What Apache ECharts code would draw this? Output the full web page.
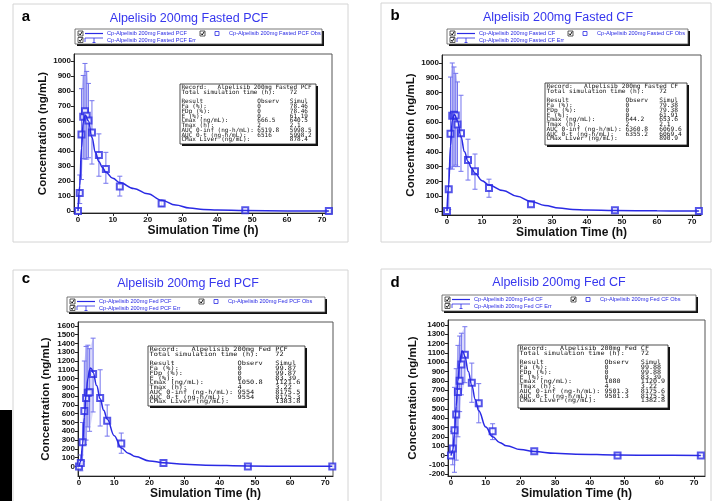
<!DOCTYPE html>
<html><head><meta charset="utf-8">
<script src="https://cdn.jsdelivr.net/npm/echarts@6/dist/echarts.min.js"></script>
<style>html,body{margin:0;padding:0;background:#fff}#c{width:712px;height:501px}</style>
</head><body><div id="c"></div>
<script>
// ---------- DATA ----------
const obsTime = [0, 0.5, 1, 1.5, 2, 2.5, 3, 4, 6, 8, 12, 24, 48, 72];

const obsA     = [0, 121, 510, 628, 664, 634, 603, 523, 373, 280, 163, 50, 5, 0];
const errLowA  = [0, 50, 210, 350, 346, 346, 355, 313, 232, 185, 100, 30, 2, 0];
const errHighA = [0, 240, 815, 903, 983, 930, 850, 735, 514, 391, 232, 72, 8, 0];

const obsB     = [0, 147, 522, 644, 650, 645, 585, 525, 345, 268, 155, 45, 5, 0];
const errLowB  = [0, 10, 290, 283, 300, 310, 300, 268, 209, 147, 93, 30, 2, 0];
const errHighB = [0, 285, 905, 1000, 973, 930, 872, 782, 485, 385, 215, 60, 8, 0];

const obsC     = [0, 40, 275, 632, 778, 840, 845, 1050.8, 780, 520, 260, 40, 0, 0];
const errLowC  = [0, -50, 60, 250, 300, 450, 400, 620, 460, 345, 150, 30, -2, 0];
const errHighC = [0, 130, 500, 1200, 1366, 1380, 1340, 1460, 1100, 700, 380, 50, 2, 0];

const obsD     = [0, 75, 270, 440, 680, 800, 975, 1080, 780, 560, 260, 45, 0, 0];
const errLowD  = [0, -100, -180, -50, 200, 470, 650, 780, 570, 350, 170, 35, -2, 0];
const errHighD = [0, 260, 730, 930, 1180, 1280, 1310, 1380, 990, 770, 340, 55, 2, 0];

const simTimeFasted = [0, 0.5, 1, 1.5, 2.1, 3, 4, 5, 6, 7, 8, 10, 12, 16, 20, 24, 28, 32, 36, 40, 48, 60, 72];
const simA = [0, 170, 420, 590, 640.5, 600, 490, 390, 330, 290, 258, 218, 190, 150, 115, 72, 40, 20, 11, 7, 3, 1, 0];
const simB = [0, 180, 440, 610, 653.6, 610, 500, 400, 335, 290, 255, 205, 175, 138, 100, 65, 38, 20, 11, 7, 3, 1, 0];

const simTimeFed = [0, 0.5, 1, 1.5, 2, 2.5, 3, 3.22, 3.5, 4, 5, 6, 7, 8, 10, 12, 14, 16, 20, 24, 30, 36, 48, 60, 72];
const simC = [0, 60, 250, 560, 820, 1000, 1100, 1121.6, 1115, 1070, 920, 770, 640, 540, 350, 210, 150, 112, 63, 42, 25, 14, 5, 2, 1];
const simD = [0, 50, 230, 530, 800, 990, 1095, 1120.9, 1112, 1060, 900, 750, 600, 480, 306, 200, 140, 104, 63, 42, 24, 14, 5, 2, 1];

const xTicks = [0, 10, 20, 30, 40, 50, 60, 70];
const yTicksFasted = [0, 100, 200, 300, 400, 500, 600, 700, 800, 900, 1000];
const yTicksFedPCF = [0, 100, 200, 300, 400, 500, 600, 700, 800, 900, 1000, 1100, 1200, 1300, 1400, 1500, 1600];
const yTicksFedCF = [-200, -100, 0, 100, 200, 300, 400, 500, 600, 700, 800, 900, 1000, 1100, 1200, 1300, 1400];

const panelLetters = ['a', 'b', 'c', 'd'];
const titles = ['Alpelisib 200mg Fasted PCF', 'Alpelisib 200mg Fasted CF', 'Alpelisib 200mg Fed PCF', 'Alpelisib 200mg Fed CF'];
const xAxisTitle = 'Simulation Time (h)';
const yAxisTitle = 'Concentration (ng/mL)';

const statLabels = ['Fa (%):', 'FDp (%):', 'F (%):', 'Cmax (ng/mL):', 'Tmax (h):', 'AUC 0-inf (ng-h/mL):', 'AUC 0-t (ng-h/mL):', 'CMax Liver (ng/mL):'];
const statObsA = ['0', '0', '0', '666.5', '2', '6519.8', '6516', ''];
const statSimA = ['78.46', '78.46', '61.19', '640.5', '2.1', '5998.5', '5998.2', '878.4'];
const statObsB = ['0', '0', '0', '644.2', '2', '6360.8', '6355.2', ''];
const statSimB = ['79.38', '79.38', '61.91', '653.6', '2.1', '6069.6', '6069.4', '890.9'];
const statObsC = ['0', '0', '0', '1050.8', '4', '9554', '9554', ''];
const statSimC = ['99.87', '99.87', '83.39', '1121.6', '3.22', '8175.5', '8175.3', '1383.8'];
const statObsD = ['0', '0', '0', '1080', '4', '9501.3', '9501.3', ''];
const statSimD = ['99.88', '99.88', '83.39', '1120.9', '3.22', '8175.6', '8175.5', '1382.8'];
const simulationTime = 72;

// ---------- STYLE / LAYOUT ----------
const BLUE = '#2a2ae4';
const TITLE_BLUE = '#3636ee';
const ERR = '#7474ee';
const BAND = 'rgba(150,150,240,0.35)';
const FONT = '"Liberation Sans", Arial, sans-serif';

const panels = [
  {obs: obsA, lo: errLowA, hi: errHighA, simT: simTimeFasted, sim: simA, yTicks: yTicksFasted, sObs: statObsA, sSim: statSimA, band: [2, 6]},
  {obs: obsB, lo: errLowB, hi: errHighB, simT: simTimeFasted, sim: simB, yTicks: yTicksFasted, sObs: statObsB, sSim: statSimB, band: [2, 6]},
  {obs: obsC, lo: errLowC, hi: errHighC, simT: simTimeFed, sim: simC, yTicks: yTicksFedPCF, sObs: statObsC, sSim: statSimC, band: [2, 7]},
  {obs: obsD, lo: errLowD, hi: errHighD, simT: simTimeFed, sim: simD, yTicks: yTicksFedCF, sObs: statObsD, sSim: statSimD, band: [2, 7]}
];

const layout = [
  {grid: {left: 74, top: 54, width: 258, height: 159}, xr: [-1.15, 72.9], yr: [-13, 1046],
   frame: [13, 4, 335, 238], letter: [26, 17], title: [189, 19],
   legend: {x: 75, y: 29, w: 247, h: 15, c2: 200}, box: {x: 180, y: 84, w: 136, h: 60, sx: 1.0},
   yGap: 19, xGap: 11},
  {grid: {left: 442, top: 55, width: 259, height: 160}, xr: [-1.43, 72.6], yr: [-27, 1054],
   frame: [381, 3, 330, 239], letter: [395, 16], title: [558, 18],
   legend: {x: 447, y: 29, w: 241, h: 15, c2: 568}, box: {x: 545, y: 83, w: 142, h: 62, sx: 1.04},
   yGap: 22, xGap: 10},
  {grid: {left: 78, top: 322, width: 255, height: 158}, xr: [-0.3, 72.2], yr: [-110, 1644],
   frame: [13, 270, 335, 240], letter: [26, 279], title: [188, 284],
   legend: {x: 67, y: 297, w: 258, h: 15, c2: 199}, box: {x: 148, y: 346, w: 157, h: 60, sx: 1.16},
   yGap: 26, xGap: 9},
  {grid: {left: 448, top: 320, width: 257, height: 160}, xr: [-0.86, 73.2], yr: [-221, 1452],
   frame: [381, 269, 330, 240], letter: [395, 283], title: [559, 283],
   legend: {x: 442, y: 295, w: 254, h: 16, c2: 571}, box: {x: 518, y: 345, w: 150, h: 63, sx: 1.12},
   yGap: 29, xGap: 9}
];

function pad(s, n) { s = String(s); while (s.length < n) s += ' '; return s; }

function boxText(i) {
  const p = panels[i];
  const lines = [
    pad('Record:', 10) + titles[i],
    pad('Total simulation time (h):', 30) + simulationTime,
    '',
    pad('Result', 21) + pad('Observ', 9) + 'Simul'
  ];
  statLabels.forEach((l, k) => lines.push(pad(l, 21) + pad(p.sObs[k], 9) + p.sSim[k]));
  return lines.join('\n');
}

function checkbox(x, y) {
  return [
    {type: 'rect', shape: {x: x, y: y - 2.5, width: 5, height: 5}, style: {fill: '#fff', stroke: '#333', lineWidth: 0.8}},
    {type: 'polyline', shape: {points: [[x + 1, y], [x + 2.2, y + 1.5], [x + 4.2, y - 1.8]]}, style: {stroke: '#111', lineWidth: 1, fill: null}}
  ];
}

function legendGraphic(i) {
  const L = layout[i].legend;
  const name = 'Cp-' + titles[i];
  const r1 = L.y + 4.5, r2 = L.y + 11;
  const f = '5.6px ' + FONT;
  return [
    {type: 'rect', shape: {x: L.x + 2, y: L.y + 2, width: L.w, height: L.h}, style: {fill: '#111'}},
    {type: 'rect', shape: {x: L.x, y: L.y, width: L.w, height: L.h}, style: {fill: '#fff', stroke: '#555', lineWidth: 0.8}},
    ...checkbox(L.x + 3, r1),
    {type: 'line', shape: {x1: L.x + 10, y1: r1, x2: L.x + 28, y2: r1}, style: {stroke: BLUE, lineWidth: 1.2}},
    {type: 'text', x: L.x + 32, y: r1, style: {text: name, font: f, fill: BLUE, verticalAlign: 'middle'}},
    ...checkbox(L.c2, r1),
    {type: 'rect', shape: {x: L.c2 + 15, y: r1 - 2, width: 4, height: 4}, style: {fill: '#fff', stroke: BLUE, lineWidth: 0.8}},
    {type: 'text', x: L.c2 + 29, y: r1, style: {text: name + ' Obs', font: f, fill: BLUE, verticalAlign: 'middle'}},
    ...checkbox(L.x + 3, r2),
    {type: 'line', shape: {x1: L.x + 10, y1: r2 - 2, x2: L.x + 28, y2: r2 - 2}, style: {stroke: BLUE, lineWidth: 0.8}},
    {type: 'line', shape: {x1: L.x + 10, y1: r2 - 2, x2: L.x + 10, y2: r2 + 2}, style: {stroke: BLUE, lineWidth: 0.8}},
    {type: 'line', shape: {x1: L.x + 19, y1: r2 - 2, x2: L.x + 19, y2: r2 + 2.5}, style: {stroke: BLUE, lineWidth: 0.8}},
    {type: 'line', shape: {x1: L.x + 17.5, y1: r2 + 2.5, x2: L.x + 20.5, y2: r2 + 2.5}, style: {stroke: BLUE, lineWidth: 0.8}},
    {type: 'text', x: L.x + 32, y: r2, style: {text: name + ' Err', font: f, fill: BLUE, verticalAlign: 'middle'}}
  ];
}

function infoBoxGraphic(i) {
  const B = layout[i].box;
  return [
    {type: 'rect', shape: {x: B.x + 2, y: B.y + 2, width: B.w, height: B.h}, style: {fill: '#111'}, z: 50},
    {type: 'rect', shape: {x: B.x, y: B.y, width: B.w, height: B.h}, style: {fill: '#fff', stroke: '#222', lineWidth: 0.8}, z: 51},
    {type: 'text', x: B.x + 1.5, y: B.y + 1.2, scaleX: B.sx, z: 52,
     style: {text: boxText(i), font: '6px "DejaVu Sans Mono", monospace', lineHeight: 4.75, fill: '#111', verticalAlign: 'top'}}
  ];
}

const grids = [], xAxes = [], yAxes = [], series = [], graphics = [];

// background artifact (black bar at the left of panel c)
graphics.push({type: 'rect', shape: {x: 0, y: 410, width: 12, height: 91}, style: {fill: '#000'}});

panels.forEach((p, i) => {
  const L = layout[i];
  grids.push(Object.assign({show: true, borderColor: '#555', borderWidth: 1, backgroundColor: '#fff', containLabel: false}, L.grid));
  xAxes.push({
    gridIndex: i, type: 'value', min: L.xr[0], max: L.xr[1],
    name: xAxisTitle, nameLocation: 'middle', nameGap: L.xGap,
    nameTextStyle: {fontFamily: FONT, fontWeight: 'bold', fontSize: 12, color: '#111'},
    axisLine: {show: true, onZero: false, lineStyle: {color: '#222', width: 1}},
    axisTick: {show: true, length: 3, customValues: xTicks, lineStyle: {color: '#222'}},
    axisLabel: {customValues: xTicks, formatter: v => String(v), fontFamily: FONT, fontWeight: 'bold', fontSize: 8, color: '#111', margin: 3},
    splitLine: {show: false}
  });
  yAxes.push({
    gridIndex: i, type: 'value', min: L.yr[0], max: L.yr[1],
    name: yAxisTitle, nameLocation: 'middle', nameGap: L.yGap,
    nameTextStyle: {fontFamily: FONT, fontWeight: 'bold', fontSize: 11.5, color: '#111'},
    axisLine: {show: true, onZero: false, lineStyle: {color: '#222', width: 1}},
    axisTick: {show: true, length: 3, customValues: p.yTicks, lineStyle: {color: '#222'}},
    axisLabel: {customValues: p.yTicks, formatter: v => String(v), fontFamily: FONT, fontWeight: 'bold', fontSize: 8, color: '#111', margin: 3},
    splitLine: {show: false}
  });
  // light band behind the dense early error bars
  const bandIdx = [];
  for (let k = p.band[0]; k <= p.band[1]; k++) bandIdx.push(k);
  series.push({
    type: 'custom', xAxisIndex: i, yAxisIndex: i, z: 1, silent: true,
    data: [0],
    renderItem: (params, api) => {
      const top = bandIdx.map(k => api.coord([obsTime[k], p.hi[k]]));
      const bot = bandIdx.slice().reverse().map(k => api.coord([obsTime[k], p.lo[k]]));
      return {type: 'polygon', shape: {points: top.concat(bot)}, style: {fill: BAND}};
    }
  });
  series.push({
    type: 'custom', name: 'Cp-' + titles[i] + ' Err', xAxisIndex: i, yAxisIndex: i, z: 2, silent: true,
    data: obsTime.map((t, k) => [t, p.lo[k], p.hi[k]]),
    encode: {x: 0, y: [1, 2]},
    renderItem: (params, api) => {
      const x = api.value(0);
      const a = api.coord([x, api.value(1)]);
      const b = api.coord([x, api.value(2)]);
      const c = 2.5;
      const st = {stroke: ERR, lineWidth: 1};
      return {type: 'group', children: [
        {type: 'line', shape: {x1: a[0], y1: a[1], x2: b[0], y2: b[1]}, style: st},
        {type: 'line', shape: {x1: a[0] - c, y1: a[1], x2: a[0] + c, y2: a[1]}, style: st},
        {type: 'line', shape: {x1: b[0] - c, y1: b[1], x2: b[0] + c, y2: b[1]}, style: st}
      ]};
    }
  });
  series.push({
    type: 'scatter', name: 'Cp-' + titles[i] + ' Obs', xAxisIndex: i, yAxisIndex: i, z: 3,
    symbol: 'emptyRect', symbolSize: 6,
    itemStyle: {color: BLUE, borderWidth: 1},
    data: obsTime.map((t, k) => [t, p.obs[k]])
  });
  series.push({
    type: 'line', name: 'Cp-' + titles[i], xAxisIndex: i, yAxisIndex: i, z: 4,
    showSymbol: false, smooth: 0.4, smoothMonotone: 'x',
    lineStyle: {color: BLUE, width: 1.5},
    data: p.simT.map((t, k) => [t, p.sim[k]])
  });

  graphics.push({type: 'rect', shape: {x: L.frame[0], y: L.frame[1], width: L.frame[2], height: L.frame[3]}, style: {fill: 'none', stroke: '#d4d4d4', lineWidth: 1}, z: 0});
  graphics.push({type: 'text', x: L.letter[0], y: L.letter[1], style: {text: panelLetters[i], font: 'bold 15px ' + FONT, fill: '#000', align: 'center', verticalAlign: 'middle'}});
  graphics.push({type: 'text', x: L.title[0], y: L.title[1], style: {text: titles[i], font: '12.5px ' + FONT, fill: TITLE_BLUE, align: 'center', verticalAlign: 'middle'}});
  legendGraphic(i).forEach(e => graphics.push(e));
  infoBoxGraphic(i).forEach(e => graphics.push(e));
});

const chart = echarts.init(document.getElementById('c'), null, {renderer: 'canvas'});
chart.setOption({
  backgroundColor: '#fff',
  animation: false,
  grid: grids, xAxis: xAxes, yAxis: yAxes, series: series,
  graphic: {elements: graphics}
});
</script></body></html>
